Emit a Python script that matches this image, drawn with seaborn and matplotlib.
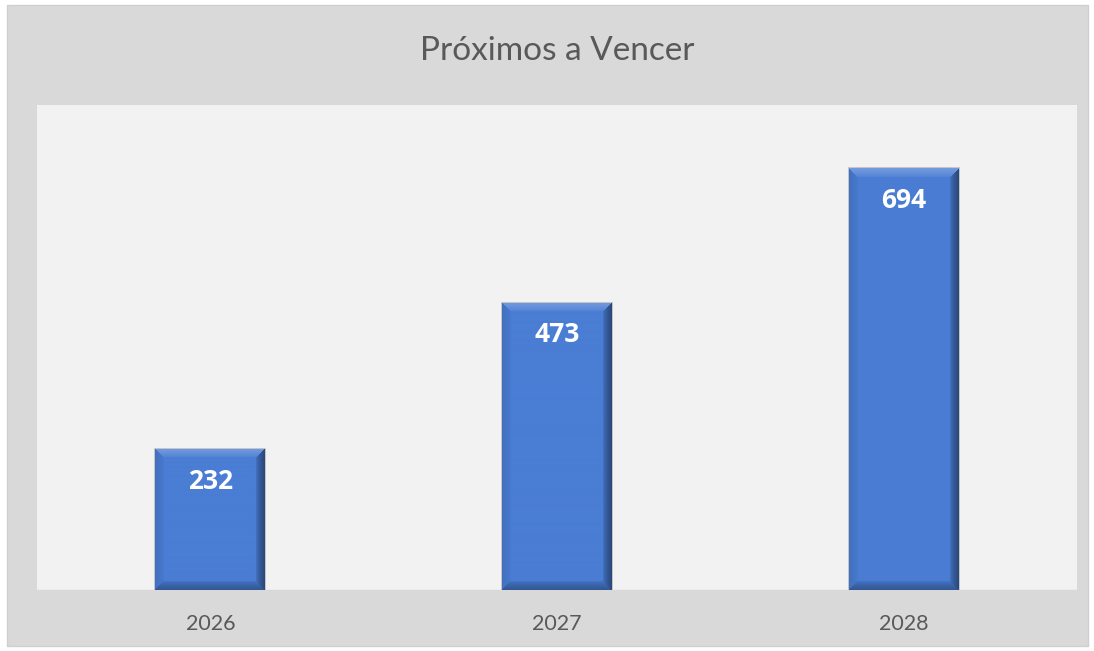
import matplotlib
matplotlib.use("Agg")
import matplotlib.pyplot as plt
import numpy as np
import pandas as pd
import seaborn as sns
from matplotlib.patches import Rectangle

years = ["2026", "2027", "2028"]
counts = [232, 473, 694]
title = "Próximos a Vencer"

BAR_COLOR = "#4a7dd4"
OUTER_BG = "#d9d9d9"
PLOT_BG = "#f2f2f2"
TEXT_COLOR = "#595959"


def bevel_image(rgb, h, w, edge=9):
    # mitered bevel in pixels: light top, dark right/bottom, slightly dark left
    base = np.ones((h, w, 3)) * np.array(rgb)
    yy, xx = np.mgrid[0:h, 0:w]
    d = np.stack([yy, w - 1 - xx, h - 1 - yy, xx])  # top, right, bottom, left
    side = d.argmin(axis=0)
    dist = d.min(axis=0)
    amount = np.array([0.22, -0.42, -0.30, -0.10])[side]
    fade = np.clip(1 - dist / edge, 0, 1) ** 0.6
    shade = amount * fade
    shade[dist >= edge] = 0
    out = np.where(shade[..., None] > 0, base + (1 - base) * shade[..., None], base * (1 + shade[..., None]))
    return np.clip(out, 0, 1)


def main() -> None:
    sns.set_theme(style="white")
    plt.rcParams["font.family"] = ["Lato", "DejaVu Sans"]

    df = pd.DataFrame({"year": years, "count": counts})

    fig = plt.figure(figsize=(10.94, 6.51), dpi=100)
    fig.patch.set_facecolor("white")
    fig.patches.append(Rectangle((7 / 1094, 5 / 651), 1081 / 1094, 641 / 651, transform=fig.transFigure,
                                 facecolor=OUTER_BG, edgecolor="#cfcfcf", linewidth=1, zorder=-5))
    ax = fig.add_axes([37 / 1094, 61 / 651, 1040 / 1094, 485 / 651])
    ax.set_facecolor(PLOT_BG)

    sns.barplot(data=df, x="year", y="count", ax=ax, color=BAR_COLOR, width=0.317,
                edgecolor="#bdbdbd", linewidth=1.2, saturation=1)

    ax.set_xlim(-0.5, 2.5)
    ax.set_ylim(0, 798)

    rgb = matplotlib.colors.to_rgb(BAR_COLOR)
    px_per_unit = 485 / 798
    for p in list(ax.patches):
        x0, y0 = p.get_x(), p.get_y()
        w, h = p.get_width(), p.get_height()
        img = bevel_image(rgb, max(int(round(h * px_per_unit)), 20), 110)
        im = ax.imshow(img, extent=(x0, x0 + w, y0, y0 + h), aspect="auto", zorder=p.get_zorder() + 0.1,
                       interpolation="bilinear")
        im.set_clip_path(p)
        ax.text(x0 + w / 2, y0 + h - 53, f"{int(round(h))}", ha="center", va="center",
                color="white", fontsize=19, fontweight="bold", family=["Open Sans", "DejaVu Sans"], zorder=5)

    ax.set_xlim(-0.5, 2.5)
    ax.set_ylim(0, 798)
    ax.set_yticks([])
    ax.set_xlabel("")
    ax.set_ylabel("")
    for s in ax.spines.values():
        s.set_visible(False)
    ax.axhline(0, color="#d0d0d0", linewidth=1, zorder=1)
    ax.tick_params(axis="x", length=0, pad=17, labelsize=15.5, labelcolor=TEXT_COLOR)

    fig.text(557 / 1094, 1 - 51 / 651, title, ha="center", va="center", fontsize=24, color=TEXT_COLOR)

    fig.savefig("out.png", dpi=100, facecolor=fig.get_facecolor())
    plt.close(fig)


if __name__ == "__main__":
    main()
